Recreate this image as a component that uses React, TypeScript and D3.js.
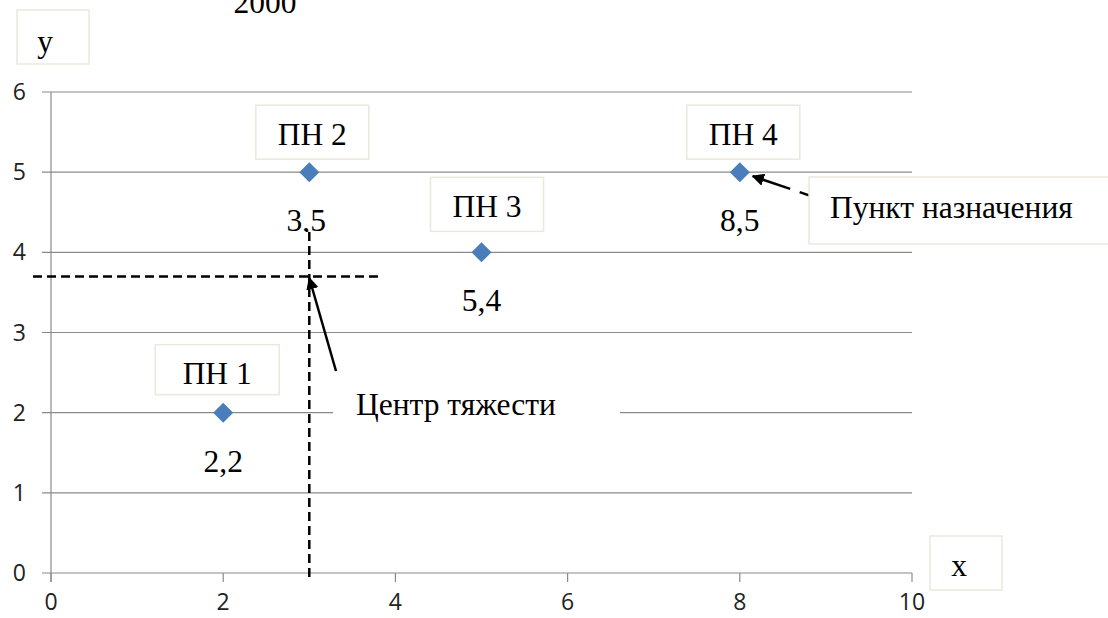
import React from "react";
import * as d3 from "d3";

// ---- data ----
const pointNames = ["ПН 1", "ПН 2", "ПН 3", "ПН 4"];
const xValues = [2, 3, 5, 8];
const yValues = [2, 5, 4, 5];
const valueLabels = ["2,2", "3,5", "5,4", "8,5"];
const xTicks = [0, 2, 4, 6, 8, 10];
const yTicks = [0, 1, 2, 3, 4, 5, 6];
const centerX = 3;
const centerY = 3.7;
const titleText = "2000";
const centerLabel = "Центр тяжести";
const destLabel = "Пункт назначения";

// ---- layout ----
const W = 1108;
const H = 618;
const X0 = 51, X1 = 912, Y0 = 573, Y1 = 92;
const SERIF = "'Liberation Serif', 'Times New Roman', serif";
const SANS = "'Open Sans', 'Liberation Sans', sans-serif";
const GRID = "#8a8a8a";
const BOX = "#ebe8dc";
const MARK = "#4a7ebb";
const FS = 31.5;

// label box offsets relative to the marker (layout, not data)
const boxLayout = [
  { dx: -6, top: -68, w: 124, h: 50, base: -29 },
  { dx: 3, top: -67, w: 113, h: 54, base: -27 },
  { dx: 5.5, top: -75, w: 113, h: 54, base: -35 },
  { dx: 3.5, top: -67, w: 113, h: 54, base: -27 },
];

export default function App() {
  const x = d3.scaleLinear().domain([0, 10]).range([X0, X1]);
  const y = d3.scaleLinear().domain([0, 6]).range([Y0, Y1]);

  const cx = x(centerX);
  const cy = y(centerY);

  // annotation arrows in data units
  const cgTail = [3.31, 2.52];
  const cgHead = [centerX + 0.0, centerY - 0.02];
  const dTail = [8.97, 4.65];
  const dHead = [8.15, 4.95];

  const diamond = (px: number, py: number, r: number) =>
    `M${px},${py - r}L${px + r},${py}L${px},${py + r}L${px - r},${py}Z`;

  return (
    <svg
      width={W}
      height={H}
      style={{ position: "absolute", left: 0, top: 0, background: "#fff" }}
    >
      <defs>
        <marker
          id="ah"
          viewBox="0 0 10 10"
          refX="9"
          refY="5"
          markerWidth="5"
          markerHeight="5"
          markerUnits="strokeWidth"
          orient="auto"
        >
          <path d="M0,0L10,5L0,10Z" fill="#000" />
        </marker>
        <clipPath id="clip35">
          <rect x={0} y={0} width={W} height={232} />
        </clipPath>
      </defs>
      <rect x={0} y={0} width={W} height={H} fill="#fff" />

      {/* gridlines */}
      {yTicks.map((t) => (
        <line
          key={"g" + t}
          x1={X0 - 9}
          x2={X1}
          y1={y(t)}
          y2={y(t)}
          stroke={GRID}
          strokeWidth={1.2}
        />
      ))}
      {/* y axis */}
      <line x1={X0} x2={X0} y1={Y1} y2={Y0 + 9} stroke={GRID} strokeWidth={1.2} />
      {/* x ticks */}
      {xTicks.map((t) => (
        <line
          key={"xt" + t}
          x1={x(t)}
          x2={x(t)}
          y1={Y0}
          y2={Y0 + 9}
          stroke={GRID}
          strokeWidth={1.2}
        />
      ))}
      {/* tick labels */}
      {xTicks.map((t) => (
        <text
          key={"xl" + t}
          x={x(t)}
          y={610}
          textAnchor="middle"
          fontFamily={SANS}
          fontSize={23}
          fill="#222"
        >
          {t}
        </text>
      ))}
      {yTicks.map((t) => (
        <text
          key={"yl" + t}
          x={26}
          y={y(t) + 8}
          textAnchor="end"
          fontFamily={SANS}
          fontSize={23}
          fill="#222"
        >
          {t}
        </text>
      ))}

      {/* white box behind "Центр тяжести" */}
      <rect x={333} y={392} width={287} height={40} fill="#fff" />

      {/* dashed center of gravity lines */}
      <line
        x1={cx}
        x2={cx}
        y1={232}
        y2={Y0 + 8}
        stroke="#000"
        strokeWidth={2.5}
        strokeDasharray="9,5"
      />
      <line
        x1={33}
        x2={378}
        y1={cy}
        y2={cy}
        stroke="#000"
        strokeWidth={2.5}
        strokeDasharray="9,5"
      />

      {/* markers */}
      {xValues.map((v, i) => (
        <path key={"m" + i} d={diamond(x(v), y(yValues[i]), 10)} fill={MARK} />
      ))}

      {/* value labels */}
      {xValues.map((v, i) => (
        <text
          key={"v" + i}
          x={x(v) - (i === 1 ? 3 : 0)}
          y={y(yValues[i]) + 59}
          textAnchor="middle"
          fontFamily={SERIF}
          fontSize={FS}
          fill="#000"
          clipPath={i === 1 ? "url(#clip35)" : undefined}
        >
          {valueLabels[i]}
        </text>
      ))}

      {/* name label boxes */}
      {xValues.map((v, i) => {
        const L = boxLayout[i];
        const bx = x(v) + L.dx;
        const by = y(yValues[i]);
        return (
          <g key={"n" + i}>
            <rect
              x={bx - L.w / 2}
              y={by + L.top}
              width={L.w}
              height={L.h}
              fill="#fff"
              stroke={BOX}
              strokeWidth={1.5}
            />
            <text
              x={bx}
              y={by + L.base}
              textAnchor="middle"
              fontFamily={SERIF}
              fontSize={FS}
              fill="#000"
            >
              {pointNames[i]}
            </text>
          </g>
        );
      })}

      {/* arrows */}
      <line
        x1={x(cgTail[0])}
        y1={y(cgTail[1])}
        x2={x(cgHead[0])}
        y2={y(cgHead[1])}
        stroke="#000"
        strokeWidth={2.5}
        markerEnd="url(#ah)"
      />
      <line
        x1={x(dTail[0])}
        y1={y(dTail[1])}
        x2={x(dHead[0])}
        y2={y(dHead[1])}
        stroke="#000"
        strokeWidth={2.5}
        strokeDasharray="25,10,60"
        markerEnd="url(#ah)"
      />

      {/* Центр тяжести label */}
      <text x={356} y={415} fontFamily={SERIF} fontSize={FS} fill="#000">
        {centerLabel}
      </text>

      {/* Пункт назначения box */}
      <rect x={809} y={177} width={310} height={67} fill="#fff" stroke={BOX} strokeWidth={1.5} />
      <text x={830} y={218} fontFamily={SERIF} fontSize={FS} fill="#000">
        {destLabel}
      </text>

      {/* axis name boxes */}
      <rect x={17} y={10} width={72} height={54} fill="#fff" stroke={BOX} strokeWidth={1.5} />
      <text x={45} y={52} textAnchor="middle" fontFamily={SERIF} fontSize={FS} fill="#000">
        y
      </text>
      <rect x={930} y={536} width={72} height={54} fill="#fff" stroke={BOX} strokeWidth={1.5} />
      <text x={959} y={576} textAnchor="middle" fontFamily={SERIF} fontSize={FS} fill="#000">
        x
      </text>

      {/* title fragment */}
      <text x={265} y={13} textAnchor="middle" fontFamily={SERIF} fontSize={FS} fill="#000">
        {titleText}
      </text>
    </svg>
  );
}
